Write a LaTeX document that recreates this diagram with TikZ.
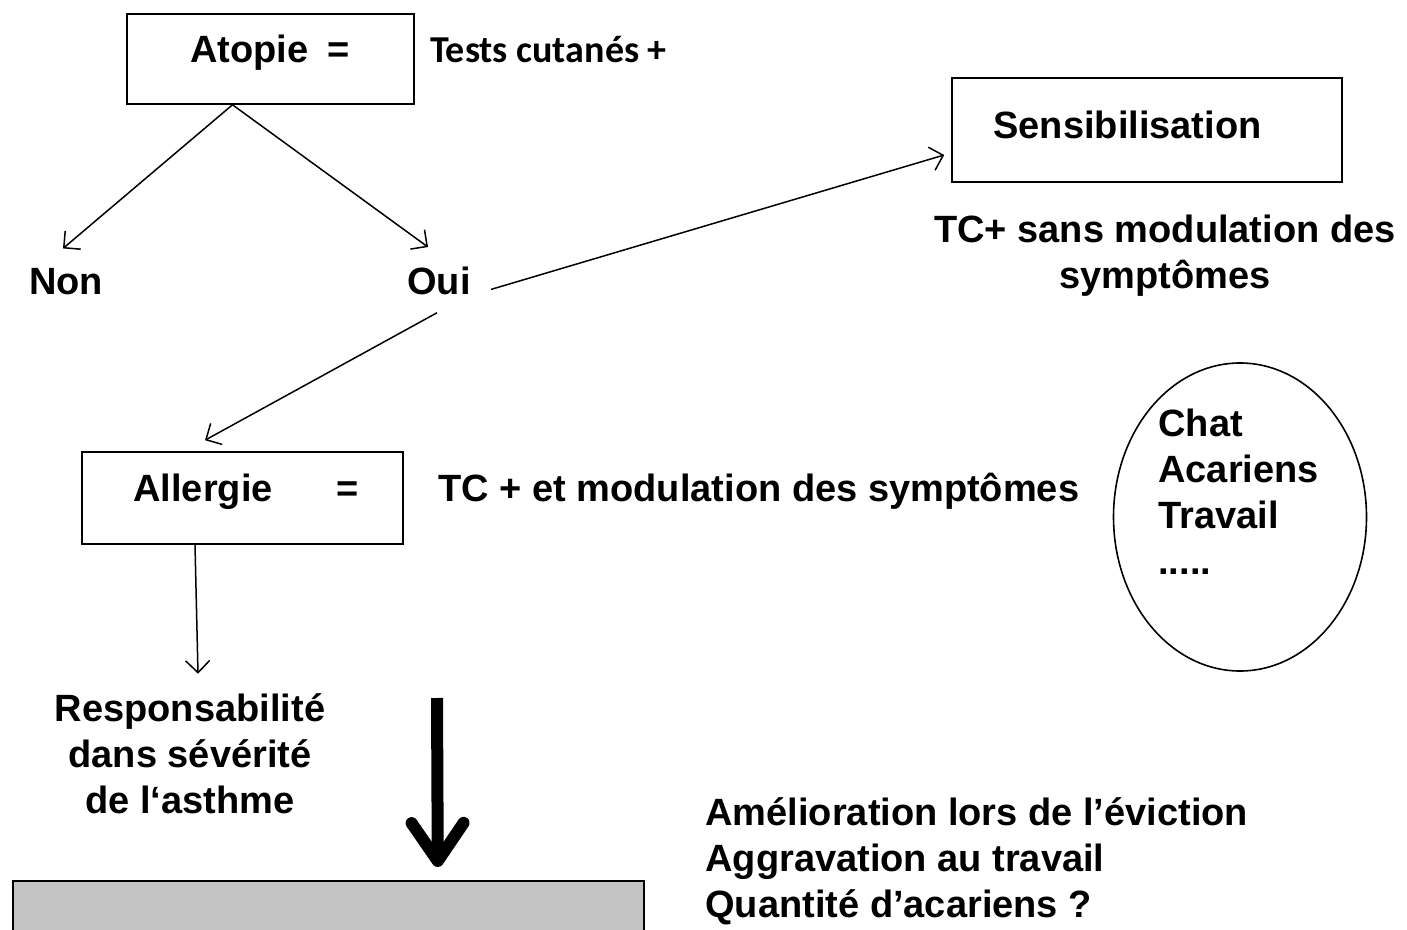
\documentclass[tikz,border=0pt]{standalone}
\usepackage{fontspec}
\setmainfont{Liberation Sans}
\newfontfamily\calibfont{Carlito}
\usepackage{tikz}
\usetikzlibrary{arrows.meta}
\usetikzlibrary{shapes.geometric}

\definecolor{bargray}{RGB}{195,195,195}
\tikzset{
  txt/.style={inner sep=0pt, font=\fontsize{19}{23}\selectfont\bfseries},
  boite/.style={draw, line width=0.8pt, inner sep=0pt},
  fleche/.style={line width=0.75pt, -{Straight Barb[length=6pt,width=12pt]}},
}

\begin{document}
\begin{tikzpicture}[x=0.5pt, y=-0.5pt]
\clip (0,0) rectangle (1407,930);

\node[boite, minimum width=143.5pt, minimum height=45pt] (atopie) at (270.5,59) {};
\node[txt, anchor=base west] (atopieTxt) at (190,63) {Atopie\hspace{9.5pt}=};
\node[txt, anchor=base west, font=\fontsize{19}{23}\selectfont\calibfont\bfseries] (tests) at (430,63) {Tests cutanés +};

\node[txt, anchor=base] (non) at (66,295) {Non};
\node[txt, anchor=base] (oui) at (439,295) {Oui};

\node[boite, minimum width=195pt, minimum height=52pt] (sensib) at (1147,130) {};
\node[txt, anchor=base west] (sensibTxt) at (993,139) {Sensibilisation};
\node[txt, anchor=base, align=center] (tcSans) at (1165,289) {TC+ sans modulation des\\symptômes};

\node[boite, minimum width=160.5pt, minimum height=46pt] (allergie) at (242.5,498) {};
\node[txt, anchor=base west] (allergieTxt) at (133,501) {Allergie\hspace{32pt}=};
\node[txt, anchor=base west] (tcEt) at (438,501) {TC + et modulation des symptômes};

\node[draw, ellipse, line width=0.8pt, minimum width=126.5pt, minimum height=154pt] (expo) at (1240,517) {};
\node[txt, anchor=base west, align=left] (expoTxt) at (1158,574) {Chat\\Acariens\\Travail\\.....};

\node[txt, anchor=base, align=center] (resp) at (190,813) {Responsabilité\\dans sévérité\\de l‘asthme};
\node[txt, anchor=base west, align=left] (amelio) at (705,917) {Amélioration lors de l’éviction\\Aggravation au travail\\Quantité d’acariens ?};

\node[draw, fill=bargray, line width=0.8pt, minimum width=315.5pt, minimum height=40pt, anchor=north west] (barre) at (12,880) {};
\coordinate (grandeFleche) at (437,698);

\draw[fleche] ([xshift=-19pt]atopie.south) -- ([xshift=-1.5pt,yshift=10pt]non.north);
\draw[fleche] ([xshift=-19pt]atopie.south) -- ([xshift=-5.5pt,yshift=10pt]oui.north);
\draw[fleche] ([xshift=10pt,yshift=-4pt]oui.east) -- ([xshift=-3.5pt,yshift=-12.5pt]sensib.west);
\draw[fleche] ([xshift=-1pt,yshift=-8.5pt]oui.south) -- ([xshift=-18.75pt,yshift=5.5pt]allergie.north);
\draw[fleche] ([xshift=-23.75pt]allergie.south) -- ([xshift=4pt,yshift=9.5pt]resp.north);
\draw[line width=6pt, -{Straight Barb[length=19pt,width=26pt,round]}] (grandeFleche) -- ([xshift=54.75pt,yshift=6.5pt]barre.north);

\end{tikzpicture}
\end{document}
